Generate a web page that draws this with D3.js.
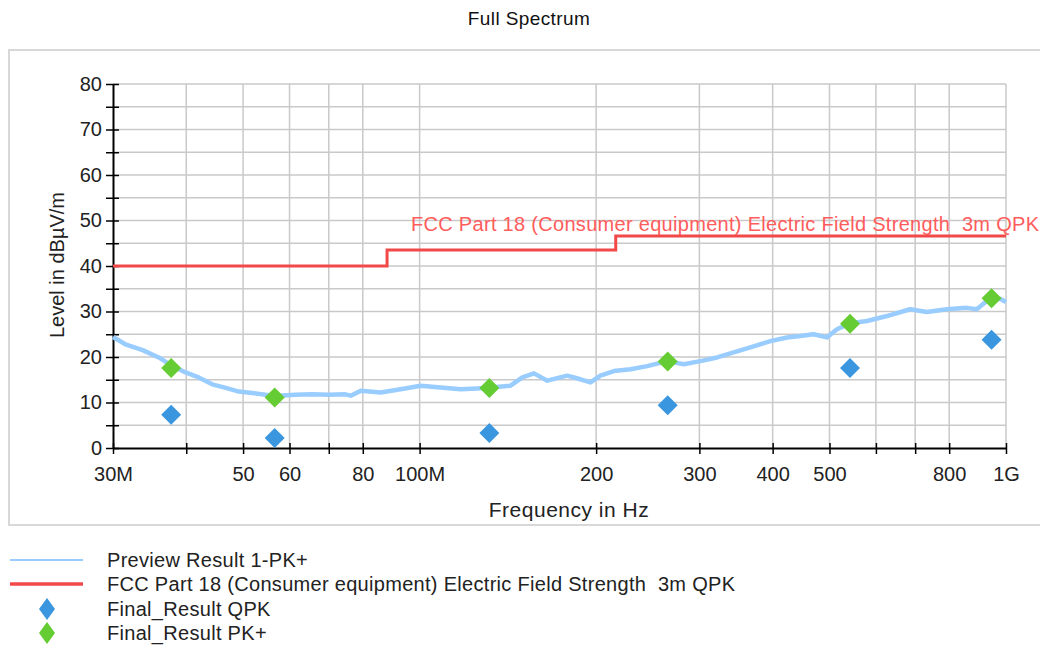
<!DOCTYPE html>
<html>
<head>
<meta charset="utf-8">
<script src="https://cdn.jsdelivr.net/npm/d3@7"></script>
<style>
  body { margin: 0; background: #fff; }
  text { font-family: "Liberation Sans", Arial, sans-serif; white-space: pre; }
</style>
</head>
<body>
<script>
// Chart data

const chartTitle = "Full Spectrum";
const xAxisTitle = "Frequency in Hz";
const yAxisTitle = "Level in dBµV/m";

// Preview Result 1-PK+ trace (frequency in MHz, level in dBµV/m)
const previewFreq = [30.0, 31.5, 33.7, 35.9, 37.9, 39.9, 42.0, 44.3, 46.7, 49.2,
    51.8, 54.6, 57.5, 61.4, 65.6, 70.0, 74.7, 76.3, 79.4, 85.8,
    92.8, 100.4, 108.6, 117.5, 125.4, 132.2, 142.9, 149.7, 156.7, 165.1,
    178.5, 188.1, 195.6, 203.4, 214.4, 228.9, 244.4, 264.3, 282.1, 301.2,
    321.6, 343.2, 366.5, 396.4, 423.3, 445.9, 469.7, 495.0, 514.9, 542.4,
    579.2, 626.4, 686.3, 733.0, 792.7, 857.3, 891.6, 927.3, 977.0, 1000];
const previewLevel = [24.4, 22.8, 21.5, 19.9, 18.0, 16.6, 15.5, 14.0, 13.2, 12.4,
    12.1, 11.7, 11.5, 11.7, 11.8, 11.7, 11.8, 11.5, 12.6, 12.2,
    12.9, 13.7, 13.3, 12.9, 13.1, 13.3, 13.7, 15.5, 16.4, 14.8,
    15.9, 15.1, 14.4, 15.9, 16.9, 17.3, 18.0, 19.1, 18.4, 19.1,
    19.9, 21.0, 22.1, 23.5, 24.3, 24.6, 25.0, 24.3, 26.1, 27.4,
    27.9, 29.0, 30.5, 29.9, 30.5, 30.8, 30.5, 32.3, 32.8, 32.1];

// FCC Part 18 limit line (step function)
const limitName = "FCC Part 18 (Consumer equipment) Electric Field Strength  3m QPK";
const limitFreq  = [30, 88, 88, 216, 216, 1000];
const limitLevel = [40, 40, 43.5, 43.5, 46.6, 46.6];

// Final measurement points
const finalFreq = [37.7, 56.6, 131.5, 264.9, 541.9, 945];
const finalQPK  = [7.3, 2.2, 3.3, 9.4, 17.6, 23.8];
const finalPK   = [17.6, 11.1, 13.2, 19.0, 27.3, 32.9];

// Axis ticks
const xTickValues = [30, 40, 50, 60, 70, 80, 100, 200, 300, 400, 500, 600, 700, 800, 1000];
const xTickLabels = {30: "30M", 50: "50", 60: "60", 80: "80", 100: "100M",
    200: "200", 300: "300", 400: "400", 500: "500", 800: "800", 1000: "1G"};
const yTickValues = d3.range(0, 81, 5);

// Legend entries
const legendNames = ["Preview Result 1-PK+", limitName, "Final_Result QPK", "Final_Result PK+"];

// Colours
const colorPreview = "#99ccff";
const colorLimit   = "#f24848";
const colorQPK     = "#3a96de";
const colorPK      = "#66cc33";
const colorGrid    = "#c9c9c9";

///////////////////////////////////////////////////////////////////////////////

const width = 1040, height = 647;

const svg = d3.select("body")
    .append("svg")
    .attr("width", width)
    .attr("height", height);

svg.append("rect")
    .attr("width", width)
    .attr("height", height)
    .attr("fill", "#fff");

// Chart frame
svg.append("rect")
    .attr("x", 9)
    .attr("y", 50)
    .attr("width", 1040)
    .attr("height", 475)
    .attr("fill", "none")
    .attr("stroke", "#d8d8d8")
    .attr("stroke-width", 2);

// Title
svg.append("text")
    .attr("x", 529)
    .attr("y", 25)
    .attr("text-anchor", "middle")
    .attr("font-size", 19)
    .attr("letter-spacing", 0.4)
    .attr("fill", "#111")
    .text(chartTitle);

// Scales
const x = d3.scaleLog()
    .domain([30, 1000])
    .range([113, 1006]);

const y = d3.scaleLinear()
    .domain([0, 80])
    .range([448, 84]);

// Grid lines
const grid = svg.append("g");

grid.selectAll(".hgrid")
    .data(yTickValues.filter(d => d > 0))
    .enter()
    .append("line")
    .attr("x1", x(30))
    .attr("x2", x(1000))
    .attr("y1", d => y(d))
    .attr("y2", d => y(d))
    .attr("stroke", colorGrid)
    .attr("stroke-width", 1.5);

grid.selectAll(".vgrid")
    .data(xTickValues.filter(d => d > 30))
    .enter()
    .append("line")
    .attr("x1", d => x(d))
    .attr("x2", d => x(d))
    .attr("y1", y(0))
    .attr("y2", y(80))
    .attr("stroke", colorGrid)
    .attr("stroke-width", 1.5);

// Y axis (ticks every 5, labels every 10, ticks cross the axis line)
const yAxis = svg.append("g")
    .attr("transform", `translate(${x(30)}, 0)`)
    .call(d3.axisLeft(y)
        .tickValues(yTickValues)
        .tickSizeOuter(0)
        .tickFormat(d => d % 10 === 0 ? d : ""));

yAxis.select(".domain").attr("stroke-width", 2);
yAxis.selectAll(".tick line")
    .attr("x1", 6)
    .attr("x2", -7)
    .attr("stroke-width", 1.5);
yAxis.selectAll(".tick text")
    .attr("x", -11)
    .attr("font-size", 20)
    .attr("font-family", "Liberation Sans, Arial, sans-serif")
    .attr("fill", "#222");

// X axis
const xAxis = svg.append("g")
    .attr("transform", `translate(0, ${y(0)})`)
    .call(d3.axisBottom(x)
        .tickValues(xTickValues)
        .tickSizeOuter(0)
        .tickFormat(d => xTickLabels[d] || ""));

xAxis.select(".domain").attr("stroke-width", 2);
xAxis.selectAll(".tick line")
    .attr("y1", -5)
    .attr("y2", 6)
    .attr("stroke-width", 1.5);
xAxis.selectAll(".tick text")
    .attr("y", 19)
    .attr("font-size", 20)
    .attr("font-family", "Liberation Sans, Arial, sans-serif")
    .attr("fill", "#222");

// Axis titles
svg.append("text")
    .attr("x", 569)
    .attr("y", 517)
    .attr("text-anchor", "middle")
    .attr("font-size", 21)
    .attr("letter-spacing", 0.5)
    .attr("fill", "#222")
    .text(xAxisTitle);

svg.append("text")
    .attr("transform", "rotate(-90)")
    .attr("x", -265)
    .attr("y", 64)
    .attr("text-anchor", "middle")
    .attr("font-size", 20)
    .attr("fill", "#222")
    .text(yAxisTitle);

// Preview trace
const previewData = previewFreq.map((f, i) => ({f: f, v: previewLevel[i]}));
const levelLine = d3.line()
    .x(d => x(d.f))
    .y(d => y(d.v));

svg.append("path")
    .datum(previewData)
    .attr("fill", "none")
    .attr("stroke", colorPreview)
    .attr("stroke-width", 4.5)
    .attr("stroke-linejoin", "round")
    .attr("d", levelLine);

// Limit line
const limitData = limitFreq.map((f, i) => ({f: f, v: limitLevel[i]}));
svg.append("path")
    .datum(limitData)
    .attr("fill", "none")
    .attr("stroke", colorLimit)
    .attr("stroke-width", 3)
    .attr("d", levelLine);

svg.append("text")
    .attr("x", 411)
    .attr("y", 231)
    .attr("font-size", 20)
    .attr("letter-spacing", 0.3)
    .attr("fill", "#ff5c5c")
    .text(limitName);

// Diamond markers
const diamond = (w, h) => `M0,${-h}L${w},0L0,${h}L${-w},0Z`;

svg.selectAll(".qpk")
    .data(finalFreq)
    .enter()
    .append("path")
    .attr("class", "qpk")
    .attr("d", diamond(10, 10))
    .attr("transform", (d, i) => `translate(${x(d)}, ${y(finalQPK[i])})`)
    .attr("fill", colorQPK);

svg.selectAll(".pk")
    .data(finalFreq)
    .enter()
    .append("path")
    .attr("class", "pk")
    .attr("d", diamond(10, 10))
    .attr("transform", (d, i) => `translate(${x(d)}, ${y(finalPK[i])})`)
    .attr("fill", colorPK);

// Legend
const legend = svg.append("g");
const legendY = [560, 584, 609, 633];

legend.append("line")
    .attr("x1", 10).attr("x2", 83)
    .attr("y1", legendY[0]).attr("y2", legendY[0])
    .attr("stroke", colorPreview)
    .attr("stroke-width", 2);

legend.append("line")
    .attr("x1", 10).attr("x2", 83)
    .attr("y1", legendY[1]).attr("y2", legendY[1])
    .attr("stroke", colorLimit)
    .attr("stroke-width", 3.5);

legend.append("path")
    .attr("d", diamond(8, 11))
    .attr("transform", `translate(47, ${legendY[2]})`)
    .attr("fill", colorQPK);

legend.append("path")
    .attr("d", diamond(8, 11))
    .attr("transform", `translate(47, ${legendY[3]})`)
    .attr("fill", colorPK);

legendNames.forEach((name, i) => {
    legend.append("text")
        .attr("x", 107)
        .attr("y", legendY[i] + 7)
        .attr("font-size", 20)
        .attr("letter-spacing", 0.3)
        .attr("fill", "#222")
        .text(name);
});
</script>
</body>
</html>
